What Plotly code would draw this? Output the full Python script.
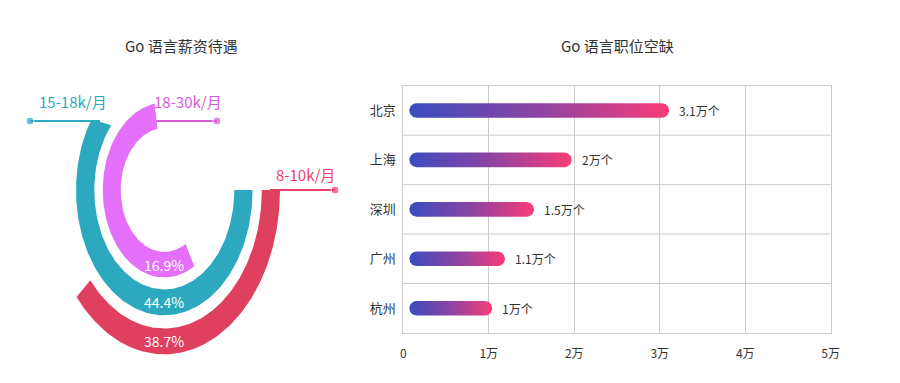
import numpy as np
import plotly.graph_objects as go

W, H = 900, 383
FONT = "Noto Sans CJK SC, Noto Sans, sans-serif"

# ---------------- data ----------------
cities = ["北京", "上海", "深圳", "广州", "杭州"]
jobs_wan = [3.11, 1.97, 1.53, 1.19, 1.04]          # 万个
job_labels = ["3.1万个", "2万个", "1.5万个", "1.1万个", "1万个"]
x_tick_vals = [0, 1, 2, 3, 4, 5]
x_tick_text = ["0", "1万", "2万", "3万", "4万", "5万"]

salary_bands = ["8-10k/月", "15-18k/月", "18-30k/月"]
salary_share = [38.7, 44.4, 16.9]
share_text = ["38.7%", "44.4%", "16.9%"]

# ---------------- styles ----------------
ring_colors = ["#de405e", "#2ca9bf", "#e46ffa"]
label_colors = ["#ea3f6e", "#2aa7bd", "#d65ad6"]
grad = [[0, "#3a4cc0"], [0.5, "#8c44a2"], [1, "#fa3c78"]]
GRID = "#cccccc"


def px_x(p):
    return p / W


def px_y(p):
    return 1 - p / H


fig = go.Figure()

# ================= left: salary rings =================
CX, CY, RU, SQ = 164.3, 190.0, 115.7, 1.42   # centre px, unit radius px, vertical stretch
rings = [(0.843, 1.0), (0.605, 0.763), (0.377, 0.532)]  # inner/outer radii (units)
# arc start / sweep in percent of a full turn (clockwise from 3 o'clock)
arc_start = [0, 0, salary_share[2]]
arc_sweep = [salary_share[0], salary_share[1] + salary_share[2], salary_share[0] + salary_share[2]]

x2_range = [(0 - CX) / RU, (360 - CX) / RU]
y2_range = [-(H - CY) / (RU * SQ), CY / (RU * SQ)]


def ux(p):
    return (p - CX) / RU


def uy(p):
    return (CY - p) / (RU * SQ)


line_colors = [label_colors[0], ring_colors[1], label_colors[2]]
# label lines (drawn first, arcs cover their inner ends)
lines = [
    ((270, 190), (335, 190)),   # 8-10k
    ((100, 121), (30, 121)),    # 15-18k
    ((145, 121), (217, 121)),   # 18-30k
]
for k, ((xa, ya), (xb, yb)) in enumerate(lines):
    fig.add_trace(go.Scatter(
        x=[ux(xa), ux(xb)], y=[uy(ya), uy(yb)], xaxis="x2", yaxis="y2",
        mode="lines+markers", line=dict(color=line_colors[k], width=2),
        marker=dict(size=[0, 8], color=line_colors[k]),
        hoverinfo="skip", showlegend=False))

for k in range(3):
    r_in, r_out = rings[k]
    a0 = np.deg2rad(arc_start[k] * 3.6)
    a1 = np.deg2rad((arc_start[k] + arc_sweep[k]) * 3.6)
    t = np.linspace(a0, a1, 160)
    xs = np.concatenate([r_out * np.cos(t), r_in * np.cos(t[::-1])])
    ys = np.concatenate([-r_out * np.sin(t), -r_in * np.sin(t[::-1])])
    if k == 1:
        # ring end is trimmed flat at its label line
        ys = np.minimum(ys, uy(lines[1][0][1]))
    xs = np.append(xs, xs[0])
    ys = np.append(ys, ys[0])
    fig.add_trace(go.Scatter(
        x=xs, y=ys, xaxis="x2", yaxis="y2", mode="lines", fill="toself",
        fillcolor=ring_colors[k], line=dict(width=0, color=ring_colors[k]),
        name=salary_bands[k], hoverinfo="name", showlegend=False))
    rm = (r_in + r_out) / 2
    fig.add_annotation(x=0, y=-rm, xref="x2", yref="y2", text=share_text[k],
                       xanchor="center", yanchor="middle",
                       showarrow=False, font=dict(color="white", size=14, family=FONT))

band_label_pos = [(305, 175), (73, 101), (188, 101)]
for k, (lx, ly) in enumerate(band_label_pos):
    fig.add_annotation(x=px_x(lx), y=px_y(ly), xref="paper", yref="paper",
                       xanchor="center", yanchor="middle",
                       text=salary_bands[k], showarrow=False,
                       font=dict(color=line_colors[k], size=15, family=FONT))

# ================= right: job vacancies =================
PX0, PX1, PY0, PY1 = 403.3, 830.7, 85.7, 333.0
n = len(cities)
ppx = (PX1 - PX0) / (x_tick_vals[-1] - x_tick_vals[0])
ppy = (PY1 - PY0) / n
BAR_R = 7.3          # half thickness, px
BAR_OFF = 6.0        # left inset, px
rx, ry = BAR_R / ppx, BAR_R / ppy

for i, v in enumerate(jobs_wan):
    x0 = BAR_OFF / ppx + rx
    x1 = v - rx
    tr = np.linspace(-np.pi / 2, np.pi / 2, 40)
    tl = np.linspace(np.pi / 2, 3 * np.pi / 2, 40)
    xs = np.concatenate([x1 + rx * np.cos(tr), x0 + rx * np.cos(tl)])
    ys = np.concatenate([i + ry * np.sin(tr), i + ry * np.sin(tl)])
    xs = np.append(xs, xs[0])
    ys = np.append(ys, ys[0])
    fig.add_trace(go.Scatter(
        x=xs, y=ys, mode="lines", fill="toself",
        fillgradient=dict(type="horizontal", colorscale=grad),
        line=dict(width=0, color="rgba(0,0,0,0)"),
        name=cities[i], hoverinfo="name", showlegend=False))
    fig.add_annotation(x=v, y=i, xref="x", yref="y", text=job_labels[i],
                       showarrow=False, xanchor="left", yanchor="middle", xshift=8,
                       font=dict(color="#333333", size=12, family=FONT))

for i in range(n - 1):
    fig.add_shape(type="line", xref="x domain", yref="y", x0=0, x1=1, y0=i + 0.5, y1=i + 0.5,
                  line=dict(color=GRID, width=1), layer="below")

# titles
for tx, ttl in [(181, "Go 语言薪资待遇"), (617, "Go 语言职位空缺")]:
    fig.add_annotation(x=px_x(tx), y=px_y(45), xref="paper", yref="paper", text=ttl,
                       xanchor="center", yanchor="middle",
                       showarrow=False, font=dict(color="#333333", size=15, family=FONT))

fig.update_layout(
    width=W, height=H, margin=dict(l=0, r=0, t=0, b=0, autoexpand=False),
    paper_bgcolor="white", plot_bgcolor="rgba(0,0,0,0)",
    font=dict(family=FONT, color="#333333"),
    xaxis=dict(domain=[px_x(PX0), px_x(PX1)], range=[x_tick_vals[0], x_tick_vals[-1]],
               tickvals=x_tick_vals, ticktext=x_tick_text, showgrid=True, gridcolor=GRID,
               gridwidth=1, zeroline=False, showline=True, linecolor=GRID, mirror=True,
               ticks="", ticklabelstandoff=10, tickfont=dict(size=12, color="#333333"),
               automargin=False, fixedrange=True),
    yaxis=dict(domain=[px_y(PY1), px_y(PY0)], range=[n - 0.5, -0.5],
               tickvals=list(range(n)), ticktext=cities, showgrid=False, zeroline=False,
               showline=True, linecolor=GRID, mirror=True, ticks="", ticklabelstandoff=4,
               tickfont=dict(size=13, color="#333333"), automargin=False, fixedrange=True),
    xaxis2=dict(domain=[0, px_x(360)], range=x2_range, visible=False, automargin=False,
                fixedrange=True),
    yaxis2=dict(domain=[0, 1], range=y2_range, visible=False, automargin=False,
                fixedrange=True),
)

fig.write_html("out.html")
